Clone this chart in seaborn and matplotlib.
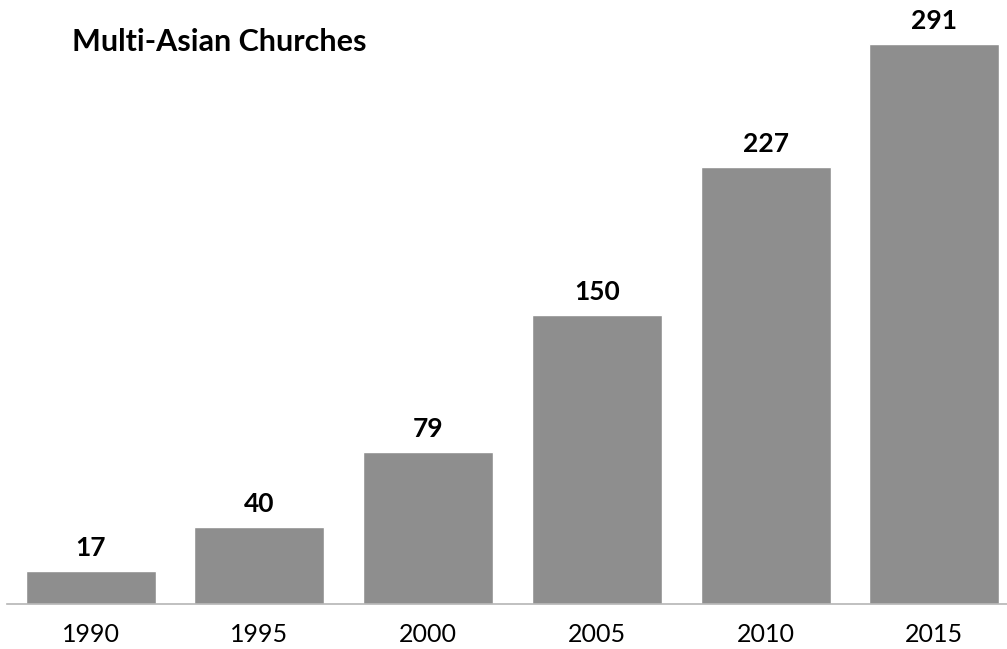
import matplotlib
matplotlib.use("Agg")
import matplotlib.pyplot as plt
import seaborn as sns
import pandas as pd

years = ["1990", "1995", "2000", "2005", "2010", "2015"]
counts = [17, 40, 79, 150, 227, 291]
title = "Multi-Asian Churches"

sns.set_theme(style="white")
plt.rcParams['font.family'] = ['Lato', 'DejaVu Sans']

df = pd.DataFrame({"year": years, "count": counts})

fig = plt.figure(figsize=(10.07, 6.49), dpi=100)
ax = fig.add_axes([7/1007, (649-603.5)/649, 1000/1007, 577/649])
sns.barplot(data=df, x="year", y="count", color="#8e8e8e", saturation=1,
            width=0.77, ax=ax)
ax.set_xlim(-0.495, 5.43)
ax.set_ylim(0, 300)
for i, v in enumerate(counts):
    ax.text(i, v + 5.5, str(v), ha="center", va="bottom", fontsize=19,
            fontweight="bold", color="black")
ax.set_xlabel("")
ax.set_ylabel("")
ax.set_yticks([])
ax.tick_params(axis="x", length=0, labelsize=18, pad=14, colors="black")
for s in ["top", "right", "left"]:
    ax.spines[s].set_visible(False)
ax.spines["bottom"].set_color("#b5b5b5")
ax.spines["bottom"].set_linewidth(1.2)
fig.text(72/1007, 1 - 42/649, title, fontsize=22, fontweight="bold",
         va="center", ha="left", color="black")
fig.savefig("out.png", dpi=100, facecolor="white")
